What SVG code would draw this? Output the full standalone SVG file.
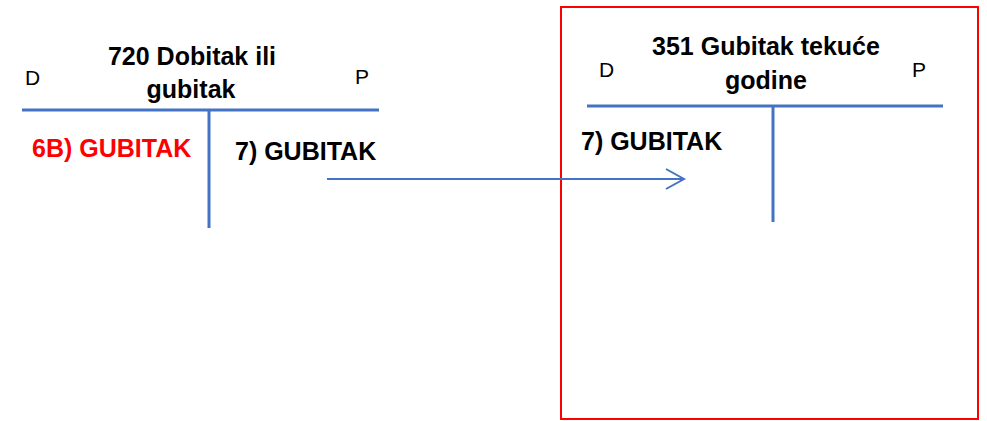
<svg xmlns="http://www.w3.org/2000/svg" width="987" height="421" viewBox="0 0 987 421">
<style>
text{font-family:"Liberation Sans",Arial,sans-serif;fill:#000}
.t{font-size:25px;font-weight:bold;text-anchor:middle}
.dp{font-size:21px}
.e{font-size:25px;font-weight:bold}
.red{fill:#FF0000}
.ln{stroke:#4472C4;stroke-width:3;fill:none}
.con{stroke:#4472C4;stroke-width:2;fill:none}
</style>
<rect width="987" height="421" fill="#fff"/>
<g id="account-720">
<text class="t" x="192" y="65">720 Dobitak ili</text>
<text class="t" x="191" y="98">gubitak</text>
<text class="dp" x="25" y="85">D</text>
<text class="dp" x="355" y="84">P</text>
<line class="ln" x1="22" y1="110" x2="379" y2="110"/>
<line class="ln" x1="209" y1="110" x2="209" y2="228"/>
<text class="e red" x="32" y="157">6B) GUBITAK</text>
<text class="e" x="235" y="160">7) GUBITAK</text>
</g>
<g id="account-351">
<rect x="561" y="7" width="417" height="412" fill="none" stroke="#FF0000" stroke-width="2"/>
<text class="t" x="766" y="55">351 Gubitak tekuće</text>
<text class="t" x="766" y="89">godine</text>
<text class="dp" x="599" y="77">D</text>
<text class="dp" x="912" y="77">P</text>
<line class="ln" x1="587" y1="106" x2="943" y2="106"/>
<line class="ln" x1="773" y1="106" x2="773" y2="222"/>
<text class="e" x="581" y="150">7) GUBITAK</text>
</g>
<g id="connectors">
<line class="con" x1="327" y1="179" x2="683" y2="179"/>
<polyline class="con" points="666,169 684,179 666,189"/>
</g>
</svg>
